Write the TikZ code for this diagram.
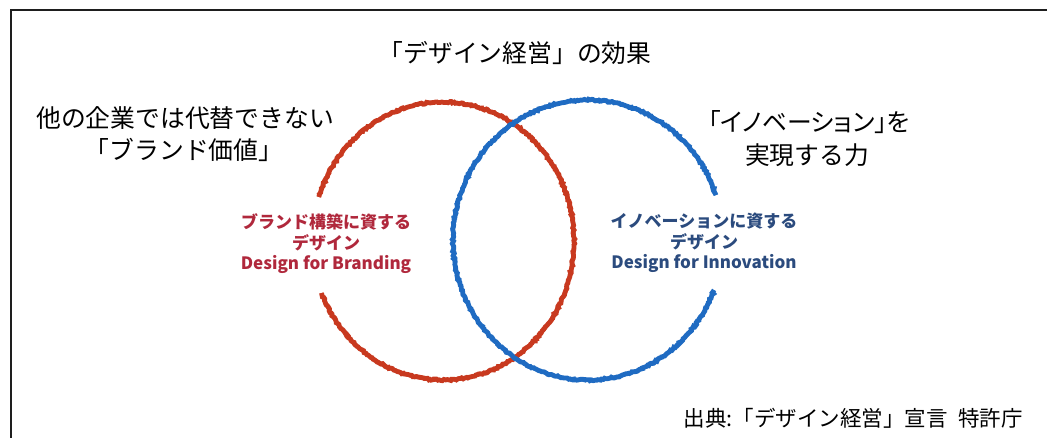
\documentclass[tikz,border=0pt]{standalone}
\usepackage{fontspec}
\setmainfont{Noto Sans CJK JP}
\newfontfamily\jpprop[RawFeature=+palt]{Noto Sans CJK JP}
\usetikzlibrary{decorations.pathmorphing}
\definecolor{ringred}{HTML}{C8391F}
\definecolor{ringblue}{HTML}{1F6BC2}
\definecolor{labred}{HTML}{B0283C}
\definecolor{labblue}{HTML}{2B4B7E}
\definecolor{framec}{HTML}{1E1E1E}
\tikzset{
  bigtext/.style={inner sep=0pt, font=\fontsize{24.8}{26}\selectfont},
  srctext/.style={inner sep=0pt, font=\fontsize{21.5}{24}\selectfont},
  lab/.style={inner sep=0pt, align=center, font=\bfseries\fontsize{17}{20.5}\selectfont},
  ring/.style={line width=4.8pt, decorate, decoration={random steps, segment length=1.6pt, amplitude=0.8pt}},
  ringcore/.style={line width=3.6pt},
}
\begin{document}
\begin{tikzpicture}[x=1pt,y=1pt]
\useasboundingbox (0,0) rectangle (1047,437);
\clip (0,0) rectangle (1047,437);
\fill[white] (0,0) rectangle (1047,437);
% frame (cropped at right and bottom)
\coordinate (fbl) at (11,-10);
\coordinate (ftl) at (11,427);
\coordinate (ftr) at (1060,427);
\draw[framec, line width=2.6pt] (fbl) -- (ftl) -- (ftr);
% rings
\coordinate (rc) at (443,196);
\coordinate (bc) at (588,197);
\draw[ringred, ringcore] (rc) ++(202:131pt and 139pt) arc[start angle=202, end angle=521.5, x radius=131pt, y radius=139pt];
\draw[ringred, ring] (rc) ++(202:131pt and 139pt) arc[start angle=202, end angle=521.5, x radius=131pt, y radius=139pt];
\draw[ringblue, ringcore] (bc) ++(18.7:135pt and 140pt) arc[start angle=18.7, end angle=339, x radius=135pt, y radius=140pt];
\draw[ringblue, ring] (bc) ++(18.7:135pt and 140pt) arc[start angle=18.7, end angle=339, x radius=135pt, y radius=140pt];
% texts
\node[bigtext] (title) at (515,384) {「デザイン経営」の効果};
\node[bigtext] (l1) at (185,319) {他の企業では代替できない};
\node[bigtext] (l2) at (184,287) {「ブランド価値」};
\node[bigtext, font=\jpprop\fontsize{24.8}{26}\selectfont] (r1) at (809,315) {「イノベーション」を};
\node[bigtext] (r2) at (807,282) {実現する力};
\node[lab, text=labred] (redlab) at (326,193) {ブランド構築に資する\\デザイン\\Design for Branding};
\node[lab, text=labblue] (bluelab) at (704,194) {イノベーションに資する\\デザイン\\Design for Innovation};
\node[srctext, anchor=east] (src) at (1023,19) {出典:「デザイン経営」宣言\hspace{0.5em}特許庁};
\end{tikzpicture}
\end{document}
